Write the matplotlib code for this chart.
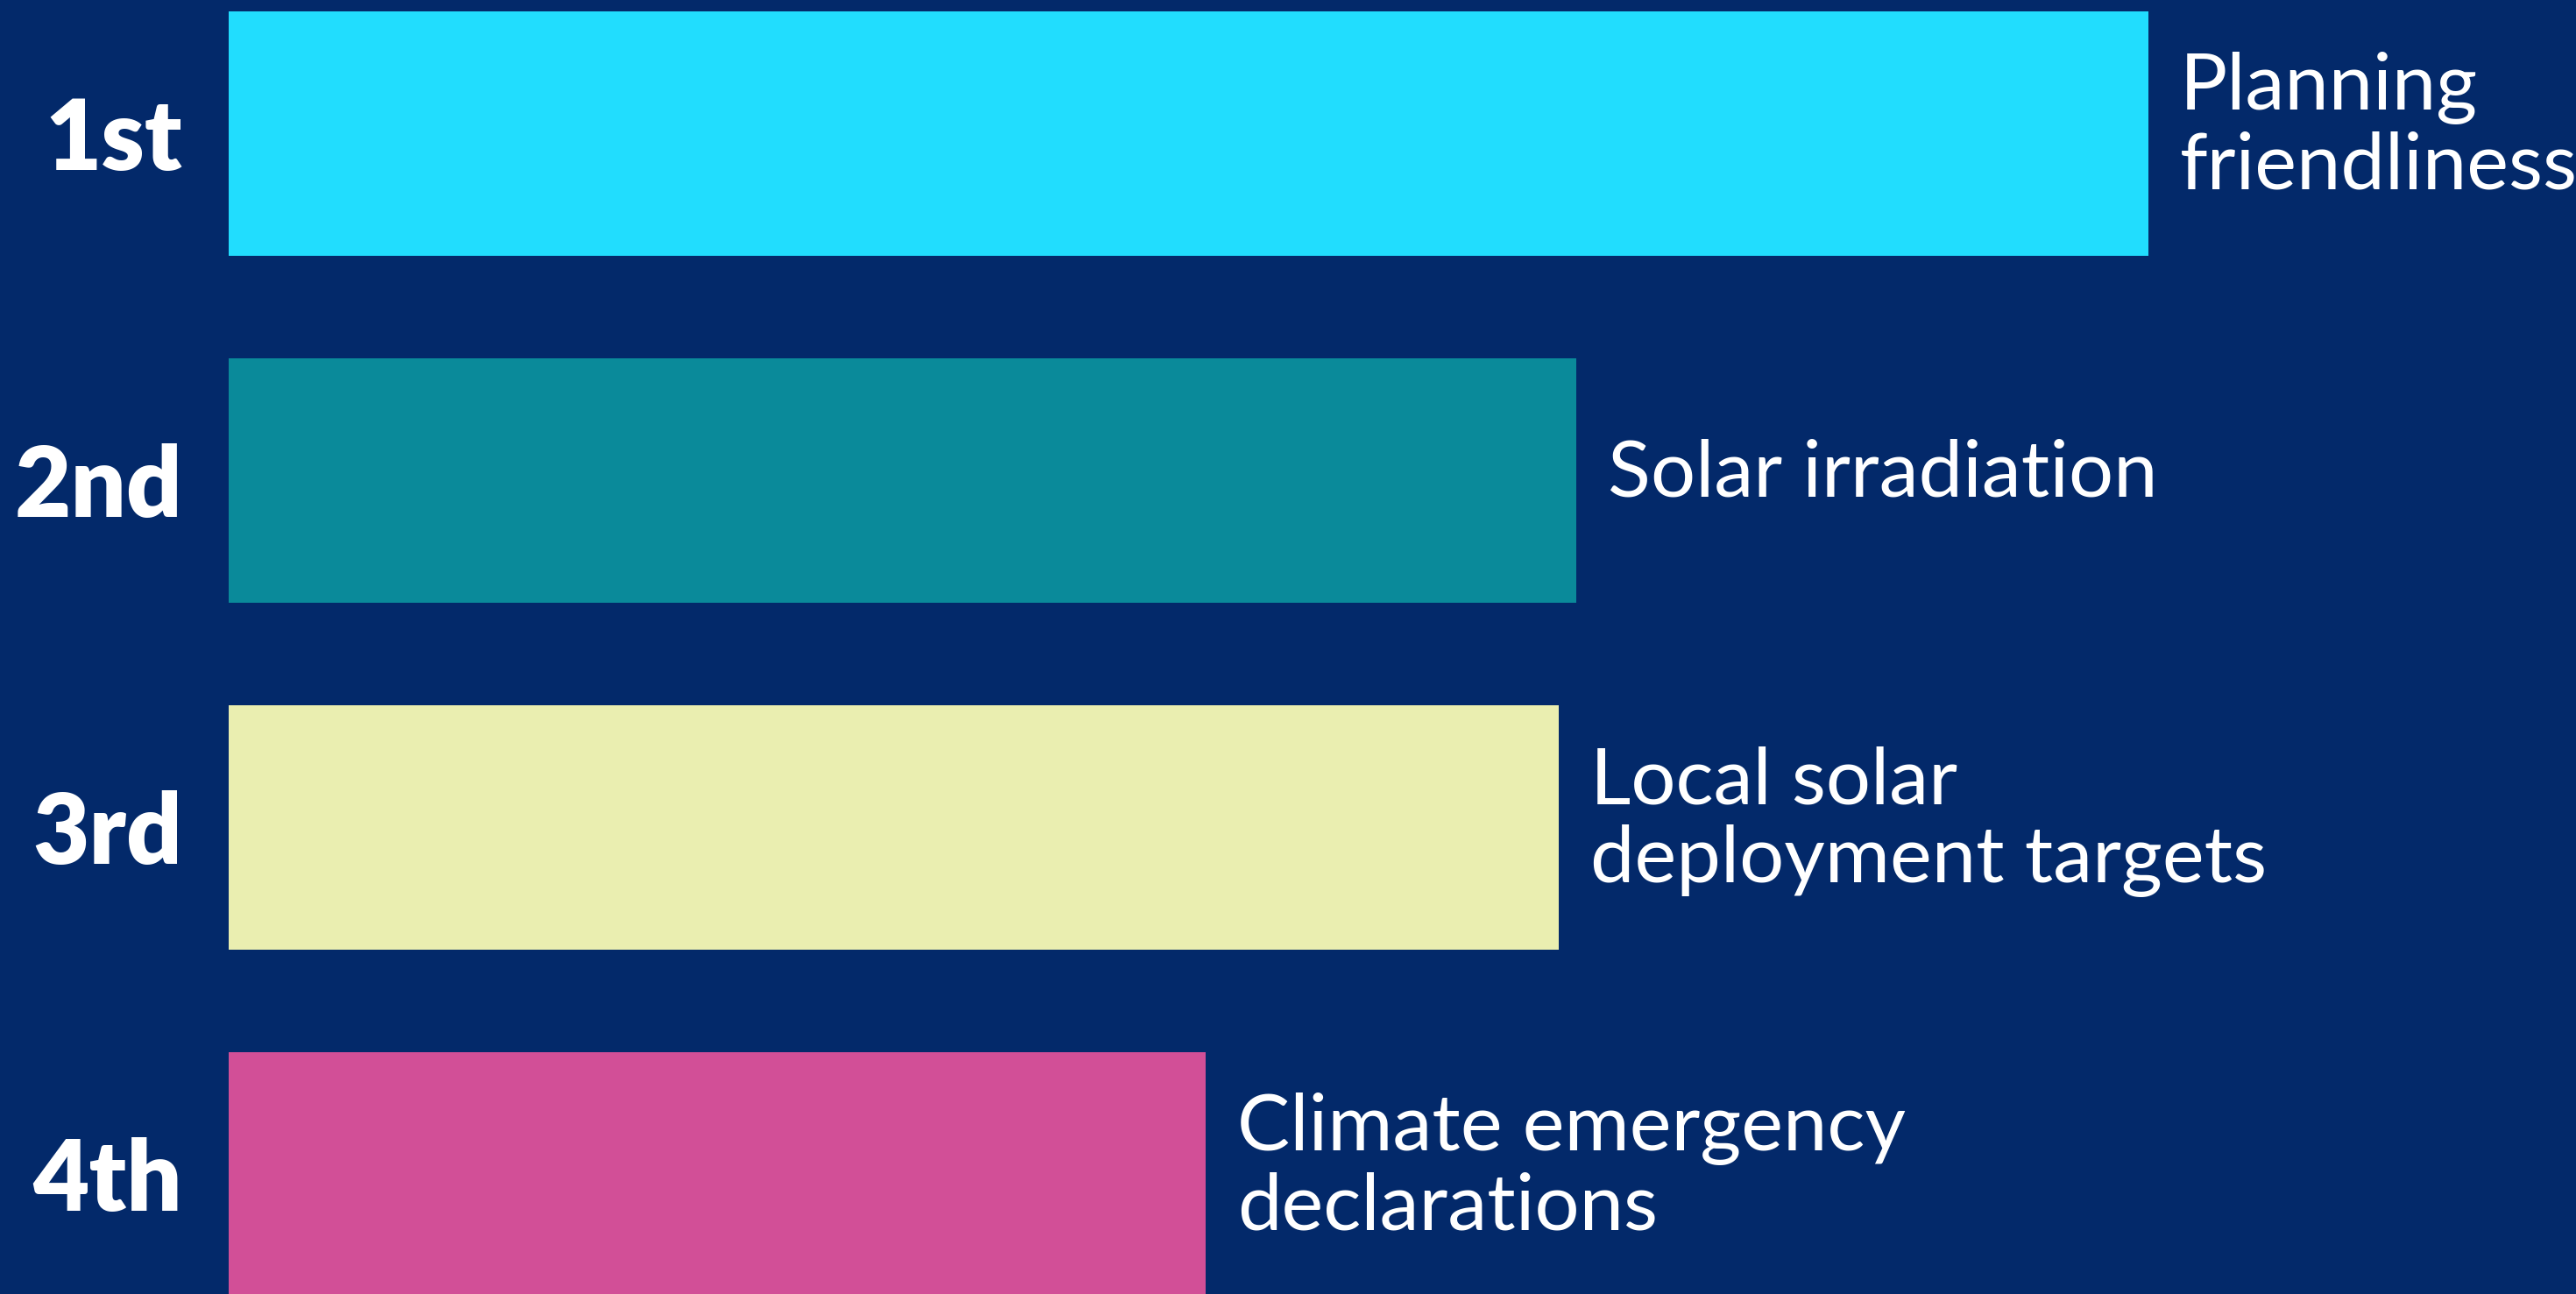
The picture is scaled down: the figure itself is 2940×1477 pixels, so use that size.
import matplotlib.pyplot as plt

# ranked drivers, top to bottom
ranks = ['1st', '2nd', '3rd', '4th']
factors = ['Planning\nfriendliness', 'Solar irradiation',
           'Local solar\ndeployment targets', 'Climate emergency\ndeclarations']
scores = [100, 70.2, 69.3, 50.9]
colors = ['#21DDFE', '#0A8A9A', '#EAEEB0', '#D24F97']

bg = '#03296A'
plt.rcParams['font.family'] = ['Lato', 'DejaVu Sans']

fig = plt.figure(figsize=(29.4, 14.77), dpi=100, facecolor=bg)
ax = fig.add_axes([261 / 2940, 0, 1 - 261 / 2940, 1])
ax.set_facecolor(bg)

pos = list(range(len(ranks)))
bars = ax.barh(pos, scores, height=0.705, color=colors)

for b, name in zip(bars, factors):
    ax.annotate(name, xy=(b.get_width(), b.get_y() + b.get_height() / 2),
                xytext=(26, 5), textcoords='offset points',
                ha='left', va='center', color='white', fontsize=65,
                linespacing=1.12)

ax.set_xlim(0, 122.3)
ax.set_ylim(3.345, -0.385)
ax.set_yticks(pos)
ax.set_yticklabels(ranks, fontsize=80, fontweight='heavy', color='white')
ax.tick_params(axis='y', length=0, pad=38)
ax.set_xticks([])
for s in ax.spines.values():
    s.set_visible(False)

fig.savefig('out.png', dpi=100, facecolor=bg)
